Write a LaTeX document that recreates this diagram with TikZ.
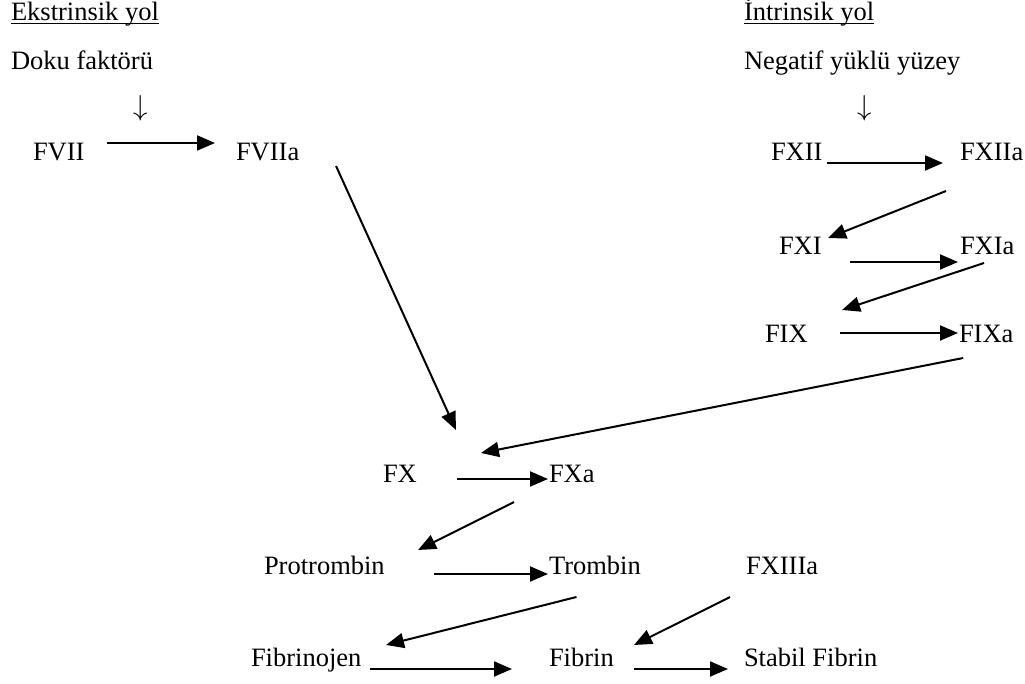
\documentclass[tikz,border=0pt]{standalone}
\usepackage{fontspec}
\setmainfont{Liberation Serif}
\usetikzlibrary{arrows.meta,calc}

\begin{document}
\begin{tikzpicture}
[x=0.5pt,y=-0.5pt,>={Triangle[length=9pt,width=7.5pt]},line width=1pt,
 every node/.style={inner sep=0pt,anchor=base west,font=\fontsize{13.25}{16}\selectfont}]

  \tikzstyle{reaction}=[->]
  \tikzstyle{trigger}=[anchor=center]

  \useasboundingbox (0,0) rectangle (1025,684);

  % extrinsic pathway
  \node (ext)   at (10,21)  {\underline{\smash{Ekstrinsik yol}}};
  \node (doku)  at (10,70)  {Doku faktörü};
  \node[trigger] (dA) at (141,108.5) {$\downarrow$};
  \node (fvii)  at (32,161)  {FVII};
  \node (fviia) at (235,161) {FVIIa};

  % intrinsic pathway
  \node (int)   at (743,21)  {\underline{\smash{İntrinsik yol}}};
  \node (neg)   at (743,70)  {Negatif yüklü yüzey};
  \node[trigger] (dB) at (865,108.5) {$\downarrow$};
  \node (fxii)  at (770,161) {FXII};
  \node (fxiia) at (959,161) {FXIIa};
  \node (fxi)   at (778,255) {FXI};
  \node (fxia)  at (959,255) {FXIa};
  \node (fix)   at (764,343) {FIX};
  \node (fixa)  at (958,343) {FIXa};

  % common pathway
  \node (fx)    at (382,483) {FX};
  \node (fxa)   at (548,483) {FXa};
  \node (protr) at (263,575) {Protrombin};
  \node (tromb) at (548,575) {Trombin};
  \node (fxiiia) at (745,575) {FXIIIa};
  \node (fgen)  at (250,667) {Fibrinojen};
  \node (fib)   at (548,667) {Fibrin};
  \node (stab)  at (743,667) {Stabil Fibrin};

  \draw[reaction] ($(fvii.base east)+(21.5,-18)$) -- ($(fviia.base west)+(-20,-18)$);
  \draw[reaction] ($(fxii.base east)+(3.5,2)$)    -- ($(fxiia.base west)+(-16,2)$);
  \draw[reaction] ($(fviia.base)+(68.4,5)$)       -- ($(fx.base)+(56,-53)$);
  \draw[reaction] ($(fxiia.base)+(-45.6,30)$)     -- ($(fxi.base)+(27.7,-17)$);
  \draw[reaction] ($(fxi.base east)+(27,7)$)      -- ($(fxia.base west)+(-1,7)$);
  \draw[reaction] ($(fxia.base)+(-3.2,8)$)        -- ($(fix.base)+(55.7,-33)$);
  \draw[reaction] ($(fix.base east)+(31,-10)$)    -- ($(fixa.base west)+(0,-10)$);
  \draw[reaction] ($(fixa.base)+(-23,15)$)        -- ($(fx.base)+(81,-30)$);
  \draw[reaction] ($(fx.base east)+(39,-4)$)      -- ($(fxa.base west)+(0,-4)$);
  \draw[reaction] ($(fxa.base)+(-57.8,19)$)       -- ($(protr.base)+(93.7,-25)$);
  \draw[reaction] ($(protr.base east)+(48,-1)$)   -- ($(tromb.base west)+(0,-1)$);
  \draw[reaction] ($(tromb.base)+(-18.4,22)$)     -- ($(fgen.base)+(79.8,-22)$);
  \draw[reaction] ($(fxiiia.base)+(-52,22)$)      -- ($(fib.base)+(52.6,-22)$);
  \draw[reaction] ($(fgen.base east)+(8,2)$)      -- ($(fib.base west)+(-36,2)$);
  \draw[reaction] ($(fib.base east)+(19,2)$)      -- ($(stab.base west)+(-15,2)$);
\end{tikzpicture}
\end{document}
